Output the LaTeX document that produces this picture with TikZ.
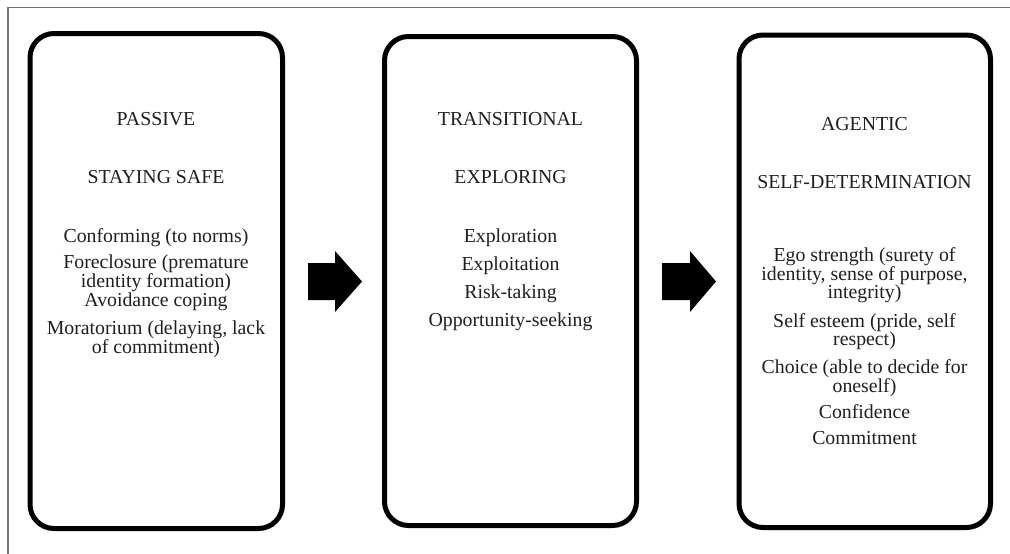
\documentclass[tikz,border=0pt]{standalone}
\usepackage{fontspec}
\setmainfont{Liberation Serif}
\begin{document}
\begin{tikzpicture}[x=1pt,y=-1pt,
  stagebox/.style={draw=black,line width=5pt,rounded corners=24pt},
  txt/.style={anchor=base,inner sep=0pt,text=black!88,font=\fontsize{19.8}{19.5}\selectfont},
  blockarrow/.style={fill=black,draw=none}]
\useasboundingbox (0,0) rectangle (1010,554);
\fill[white] (0,0) rectangle (1010,554);
\draw[black!55,line width=1.3pt] (8,560) -- (8,7.5) -- (1020,7.5);
% boxes
\draw[stagebox] (30,33.5) rectangle (282.5,528.5);
\draw[stagebox] (384.5,36.5) rectangle (636.5,525.5);
\draw[stagebox] (739,35) rectangle (990.5,527.5);
\coordinate (b1) at (156,0);
\coordinate (b2) at (510.5,0);
\coordinate (b3) at (864.5,0);
% arrows
\fill[blockarrow] (308,263) -- (335,263) -- (335,251) -- (362,281.5) -- (335,312) -- (335,300) -- (308,300) -- cycle;
\fill[blockarrow] (662,263) -- (690,263) -- (690,251) -- (716,281.5) -- (690,312) -- (690,300) -- (662,300) -- cycle;
% box 1
\node[txt] (p1) at (156,125) {PASSIVE};
\node[txt] (p2) at (156,183) {STAYING SAFE};
\node[txt] (p3) at (156,242) {Conforming (to norms)};
\node[txt] (p4) at (156,268) {Foreclosure (premature};
\node[txt] (p5) at (156,287) {identity formation)};
\node[txt] (p6) at (156,306) {Avoidance coping};
\node[txt] (p7) at (156,334) {Moratorium (delaying, lack};
\node[txt] (p8) at (156,353) {of commitment)};
% box 2
\node[txt] (t1) at (510.5,125) {TRANSITIONAL};
\node[txt] (t2) at (510.5,183) {EXPLORING};
\node[txt] (t3) at (510.5,242) {Exploration};
\node[txt] (t4) at (510.5,270) {Exploitation};
\node[txt] (t5) at (510.5,298) {Risk-taking};
\node[txt] (t6) at (510.5,326) {Opportunity-seeking};
% box 3
\node[txt] (a1) at (864.5,130) {AGENTIC};
\node[txt] (a2) at (864.5,188) {SELF-DETERMINATION};
\node[txt] (a3) at (864.5,261) {Ego strength (surety of};
\node[txt] (a4) at (864.5,280) {identity, sense of purpose,};
\node[txt] (a5) at (864.5,298) {integrity)};
\node[txt] (a6) at (864.5,327) {Self esteem (pride, self};
\node[txt] (a7) at (864.5,345) {respect)};
\node[txt] (a8) at (864.5,373) {Choice (able to decide for};
\node[txt] (a9) at (864.5,392) {oneself)};
\node[txt] (a10) at (864.5,418) {Confidence};
\node[txt] (a11) at (864.5,444) {Commitment};
\end{tikzpicture}
\end{document}
